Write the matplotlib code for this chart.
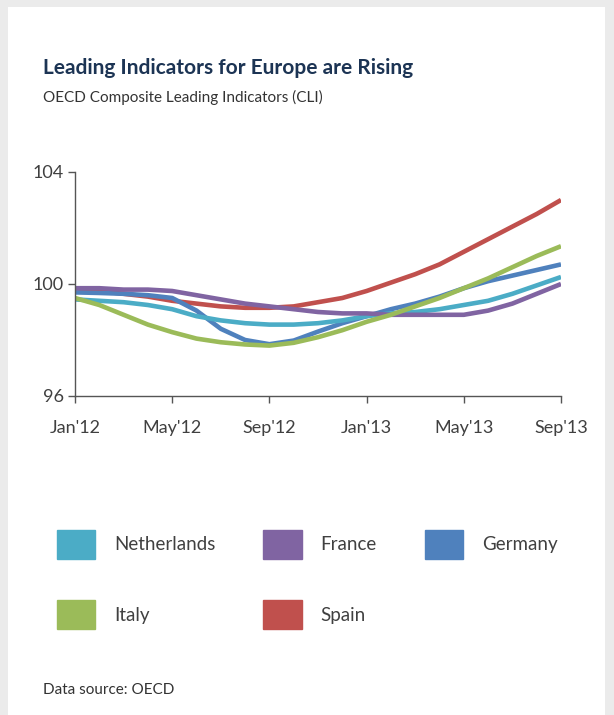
import numpy as np
import matplotlib.pyplot as plt
from matplotlib.patches import Rectangle, Patch

# monthly values Jan'12 .. Sep'13
months = np.arange(21)
tick_pos = [0, 4, 8, 12, 16, 20]
tick_labels = ["Jan'12", "May'12", "Sep'12", "Jan'13", "May'13", "Sep'13"]

spain = [99.85, 99.75, 99.65, 99.55, 99.4, 99.3, 99.2, 99.15, 99.15, 99.2, 99.35,
         99.5, 99.75, 100.05, 100.35, 100.7, 101.15, 101.6, 102.05, 102.5, 103.0]
france = [99.85, 99.85, 99.8, 99.8, 99.75, 99.6, 99.45, 99.3, 99.2, 99.1, 99.0,
          98.95, 98.95, 98.9, 98.9, 98.9, 98.9, 99.05, 99.3, 99.65, 100.0]
germany = [99.7, 99.68, 99.65, 99.6, 99.5, 99.05, 98.4, 98.0, 97.85, 97.98, 98.3,
           98.6, 98.85, 99.1, 99.3, 99.55, 99.85, 100.1, 100.3, 100.5, 100.7]
netherlands = [99.45, 99.4, 99.35, 99.25, 99.1, 98.85, 98.7, 98.6, 98.55, 98.55, 98.6,
               98.7, 98.85, 98.95, 99.0, 99.1, 99.25, 99.4, 99.65, 99.95, 100.25]
italy = [99.5, 99.25, 98.9, 98.55, 98.28, 98.05, 97.92, 97.84, 97.8, 97.9, 98.1,
         98.35, 98.65, 98.9, 99.2, 99.5, 99.85, 100.2, 100.6, 101.0, 101.35]

c_nl = '#4bacc6'
c_fr = '#8064a2'
c_de = '#4f81bd'
c_it = '#9bbb59'
c_es = '#c0504d'

plt.rcParams['font.family'] = ['Lato', 'DejaVu Sans']

fig = plt.figure(figsize=(6.14, 7.15), dpi=100, facecolor='#ebebeb')
fig.patches.append(Rectangle((8 / 614, 0), 597 / 614, 708 / 715,
                             transform=fig.transFigure, facecolor='white',
                             edgecolor='none', zorder=-10))

ax = fig.add_axes([75 / 614, 1 - 396 / 715, 486 / 614, 224 / 715])
ax.set_facecolor('none')
ax.set_zorder(2)

lw = 3.3
for vals, col in [(spain, c_es), (germany, c_de), (netherlands, c_nl),
                  (france, c_fr), (italy, c_it)]:
    ax.plot(months, vals, color=col, lw=lw, solid_capstyle='butt',
            solid_joinstyle='round')

ax.set_xlim(0, 20)
ax.set_ylim(96, 104)
ax.set_yticks([96, 100, 104])
ax.set_xticks(tick_pos)
ax.set_xticklabels(tick_labels)
for s in ['top', 'right']:
    ax.spines[s].set_visible(False)
for s in ['left', 'bottom']:
    ax.spines[s].set_color('#555555')
    ax.spines[s].set_linewidth(1)
ax.tick_params(axis='both', direction='out', length=5, width=1, color='#555555',
               labelsize=13, labelcolor='#404040')
ax.tick_params(axis='x', pad=12)
ax.tick_params(axis='y', pad=3)

fig.text(43 / 614, 1 - 68 / 715, 'Leading Indicators for Europe are Rising',
         fontsize=15, fontweight='bold', color='#1c3454', va='center')
fig.text(43 / 614, 1 - 97 / 715, 'OECD Composite Leading Indicators (CLI)',
         fontsize=11, color='#333333', va='center')
fig.text(43 / 614, 1 - 690 / 715, 'Data source: OECD',
         fontsize=11, color='#333333', va='center')

# legend, column-major order so rows read NL FR DE / IT ES
handles = [Patch(color=c_nl), Patch(color=c_it), Patch(color=c_fr),
           Patch(color=c_es), Patch(color=c_de)]
labels = ['Netherlands', 'Italy', 'France', 'Spain', 'Germany']
leg = fig.legend(handles, labels, ncol=3, loc='upper left',
                 bbox_to_anchor=(57 / 614, 1 - 530 / 715), frameon=False,
                 fontsize=13.5, handlelength=2.05, handleheight=2.0,
                 handletextpad=1.0, columnspacing=2.55, labelspacing=2.2,
                 borderpad=0, borderaxespad=0)
for t in leg.get_texts():
    t.set_color('#404040')

fig.savefig('out.png', dpi=100, facecolor=fig.get_facecolor())
